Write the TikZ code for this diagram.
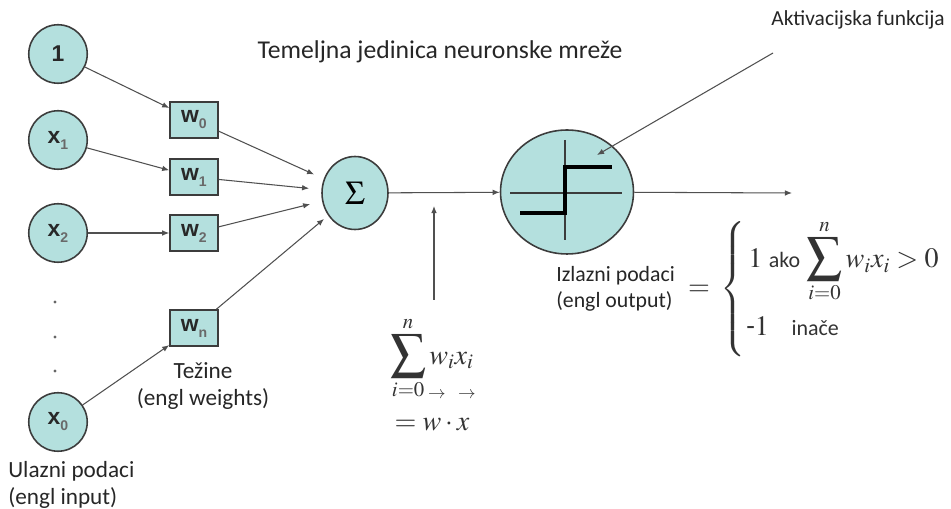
\documentclass[tikz,border=0pt]{standalone}
\usepackage{mathptmx}
\usepackage{fontspec}
\setmainfont{Carlito}
\setsansfont{Liberation Sans}
\usetikzlibrary{arrows.meta,shapes.geometric}
\definecolor{nodefill}{RGB}{180,224,222}
\definecolor{nodeline}{RGB}{60,60,60}
\definecolor{nodetext}{RGB}{40,40,40}
\definecolor{edgegray}{RGB}{80,80,80}
\newcommand{\nsub}[2]{#1\raisebox{-0.5ex}{\fontsize{8}{8}\selectfont\color{nodetext!70} #2}}
\newcommand{\bigsum}{\mathop{\hbox{\fontsize{20}{20}\selectfont$\displaystyle\sum$}}\limits}

\begin{document}
\begin{tikzpicture}[x=0.02cm, y=-0.02cm,
    inp/.style={shape=circle, draw=nodeline, fill=nodefill, line width=0.9pt,
        minimum size=1.17cm, inner sep=0pt, text=nodetext,
        font=\sffamily\bfseries\fontsize{13}{13}\selectfont},
    wbox/.style={shape=rectangle, draw=nodeline, fill=nodefill, line width=0.9pt,
        minimum width=0.96cm, minimum height=0.72cm, inner sep=0pt, text=nodetext,
        font=\sffamily\bfseries\fontsize{13}{13}\selectfont},
    conn/.style={draw=edgegray, line width=0.6pt, -{Latex[length=4pt,width=3.2pt]}},
    lbl/.style={font=\fontsize{13.2}{15}\selectfont, text=black!85, align=left, inner sep=0pt},
    fml/.style={font=\fontsize{16}{18}\selectfont, text=black!80, inner sep=0pt}]
    \useasboundingbox (0,0) rectangle (951,509);

    % ulazi
    \node[inp] (1) at (58,54) {1};
    \node[inp] (x1) at (58,140) {\nsub{x}{1}};
    \node[inp] (x2) at (58,233) {\nsub{x}{2}};
    \node[inp] (x0) at (58,422) {\nsub{x}{0}};
    \fill[black!60] (55,302) circle (1.6) (55,337) circle (1.6) (55,371) circle (1.6);

    % tezine
    \node[wbox] (w0) at (194,120) {\nsub{w}{0}};
    \node[wbox] (w1) at (194,177) {\nsub{w}{1}};
    \node[wbox] (w2) at (194,233) {\nsub{w}{2}};
    \node[wbox] (wn) at (194,328) {\nsub{w}{n}};

    % zbroj i aktivacija
    \node[shape=ellipse, draw=nodeline, fill=nodefill, line width=0.9pt,
        minimum width=1.32cm, minimum height=1.46cm, inner sep=0pt,
        font=\fontsize{19}{19}\selectfont] (sum) at (355,193) {$\Sigma$};
    \node[shape=ellipse, draw=nodeline, fill=nodefill, line width=0.9pt,
        minimum width=2.66cm, minimum height=2.48cm] (act) at (567,192) {};
    \draw[nodeline, line width=0.7pt] (510,193) -- (622,193);
    \draw[nodeline, line width=0.7pt] (565,140) -- (565,240);
    \draw[black, line width=2.2pt] (520,213) -- (565,213) -- (565,167) -- (612,167);

    \draw[conn] (1) -- (w0);
    \draw[conn] (x1) -- (w1);
    \draw[conn] (x2) -- (w2);
    \draw[conn] (x0) -- (wn);
    \draw[conn, shorten >=6pt] (w0) -- (sum);
    \draw[conn, shorten >=7pt] (w1) -- (sum);
    \draw[conn, shorten >=7pt] (w2) -- (sum);
    \draw[conn, shorten >=3pt] (wn) -- (sum);
    \draw[conn] (sum) -- (act);
    \coordinate (out) at (792,193);
    \draw[conn] (act) -- (out);
    \coordinate (up0) at (434,300);
    \coordinate (up1) at (434,206);
    \draw[conn] (up0) -- (up1);
    \coordinate (akt0) at (773,53);
    \coordinate (akt1) at (597,155);
    \draw[conn] (akt0) -- (akt1);

    % tekstovi
    \node[font=\fontsize{14.6}{17}\selectfont, text=black!85] (title) at (440,52) {Temeljna jedinica neuronske mreže};
    \node[font=\fontsize{12.2}{14}\selectfont, text=black!85] (aktiv) at (858,20) {Aktivacijska funkcija};
    \node[lbl, align=center] (tez) at (203,386) {Težine\\(engl weights)};
    \node[lbl, anchor=west] (ulaz) at (8,485) {Ulazni podaci\\(engl input)};
    \node[lbl, anchor=west, font=\fontsize{12.4}{15}\selectfont] (izlaz) at (556,289) {Izlazni podaci\\(engl output)};

    % formule
    \node[fml] (sumf) at (432,358) {$\displaystyle\bigsum_{i=0}^{n} w_i x_i$};
    \node[fml, font=\fontsize{10}{10}\selectfont] (va1) at (437,395) {$\rightarrow$};
    \node[fml, font=\fontsize{10}{10}\selectfont] (va2) at (467,395) {$\rightarrow$};
    \node[fml] (wx) at (432,425) {$=w\cdot x$};
    \node[fml] (eq) at (699,290) {$=$};
    \node[fml] (brace) at (733,290) {$\nulldelimiterspace=0pt\left\{\vrule width 0pt height 1.25cm depth 1.25cm\right.$};
    \node[fml, anchor=base west] (r1) at (748,268) {$1$ {\fontsize{12.5}{12}\selectfont ako} $\displaystyle\bigsum_{i=0}^{n} w_i x_i > 0$};
    \node[fml, anchor=base west] (r2) at (746,336) {$\textrm{-}1$\hspace{0.8em}{\fontsize{12.5}{12}\selectfont inače}};
\end{tikzpicture}
\end{document}
